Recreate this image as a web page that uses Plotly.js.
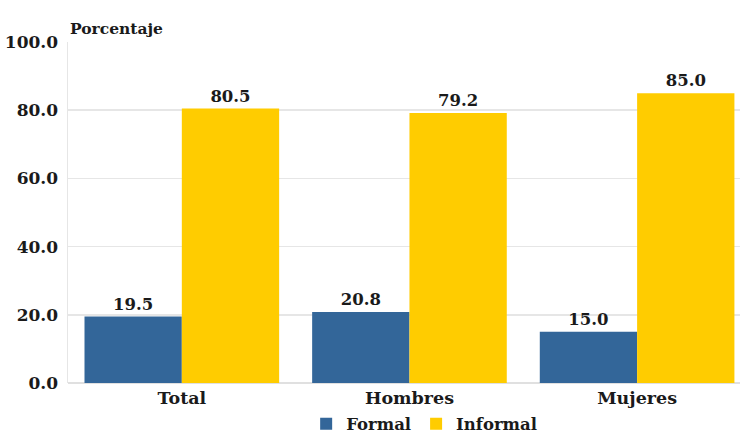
<!DOCTYPE html>
<html><head><meta charset="utf-8">
<script src="https://cdn.plot.ly/plotly-3.0.1.min.js"></script>
<style>html,body{margin:0;padding:0;background:#fff}</style>
</head><body>
<div id="chart" style="width:740px;height:435px"></div>
<script>
const categories = ["Total", "Hombres", "Mujeres"];
const formal = [19.5, 20.8, 15.0];
const informal = [80.5, 79.2, 85.0];
const seriesNames = ["Formal", "Informal"];
const yTicks = [0, 20, 40, 60, 80, 100];

const F = "DejaVu Serif";
const C = "#1a1a1a";
const mk = (name, vals, color) => ({
  type: "bar", name: name, x: categories, y: vals,
  marker: {color: color},
  texttemplate: "%{y:.1f}", textposition: "outside",
  textfont: {family: F, size: 16.5, color: C, weight: "bold"},
  cliponaxis: false, hoverinfo: "skip"
});
const data = [mk(seriesNames[0], formal, "#336699"), mk(seriesNames[1], informal, "#FFCC00")];
const layout = {
  width: 740, height: 435,
  margin: {l: 68, r: 0, t: 42, b: 52, autoexpand: false},
  paper_bgcolor: "#fff", plot_bgcolor: "#fff",
  barmode: "group", bargap: 0.145, bargroupgap: 0,
  font: {family: F, size: 17, color: C, weight: "bold"},
  xaxis: {type: "category", range: [-0.5, 2.452], showgrid: false, zeroline: false,
    showline: false, ticks: "", ticklabelstandoff: 2, tickfont: {family: F, size: 17.5, weight: "bold", color: C}},
  yaxis: {range: [0, 100], tickvals: yTicks, tickformat: ".1f", showgrid: true,
    gridcolor: "#e6e6e6", gridwidth: 1.5, zeroline: true, zerolinecolor: "#e0e0e0", zerolinewidth: 1.5,
    showline: true, linecolor: "#e6e6e6", linewidth: 1.5, ticks: "", ticklabelstandoff: 5,
    tickfont: {family: F, size: 17, weight: "bold", color: C}},
  legend: {orientation: "h", x: 0.53, xanchor: "center", yref: "container", y: 0.025, yanchor: "middle",
    font: {family: F, size: 16.5, weight: "bold", color: C}, itemwidth: 30},
  annotations: [{text: "Porcentaje", xref: "paper", yref: "paper", x: 0, y: 1, xanchor: "left",
    yanchor: "bottom", yshift: 2, showarrow: false,
    font: {family: F, size: 15.5, weight: "bold", color: C}}],
  showlegend: true
};
Plotly.newPlot("chart", data, layout, {displayModeBar: false, staticPlot: true});
</script>
</body></html>
